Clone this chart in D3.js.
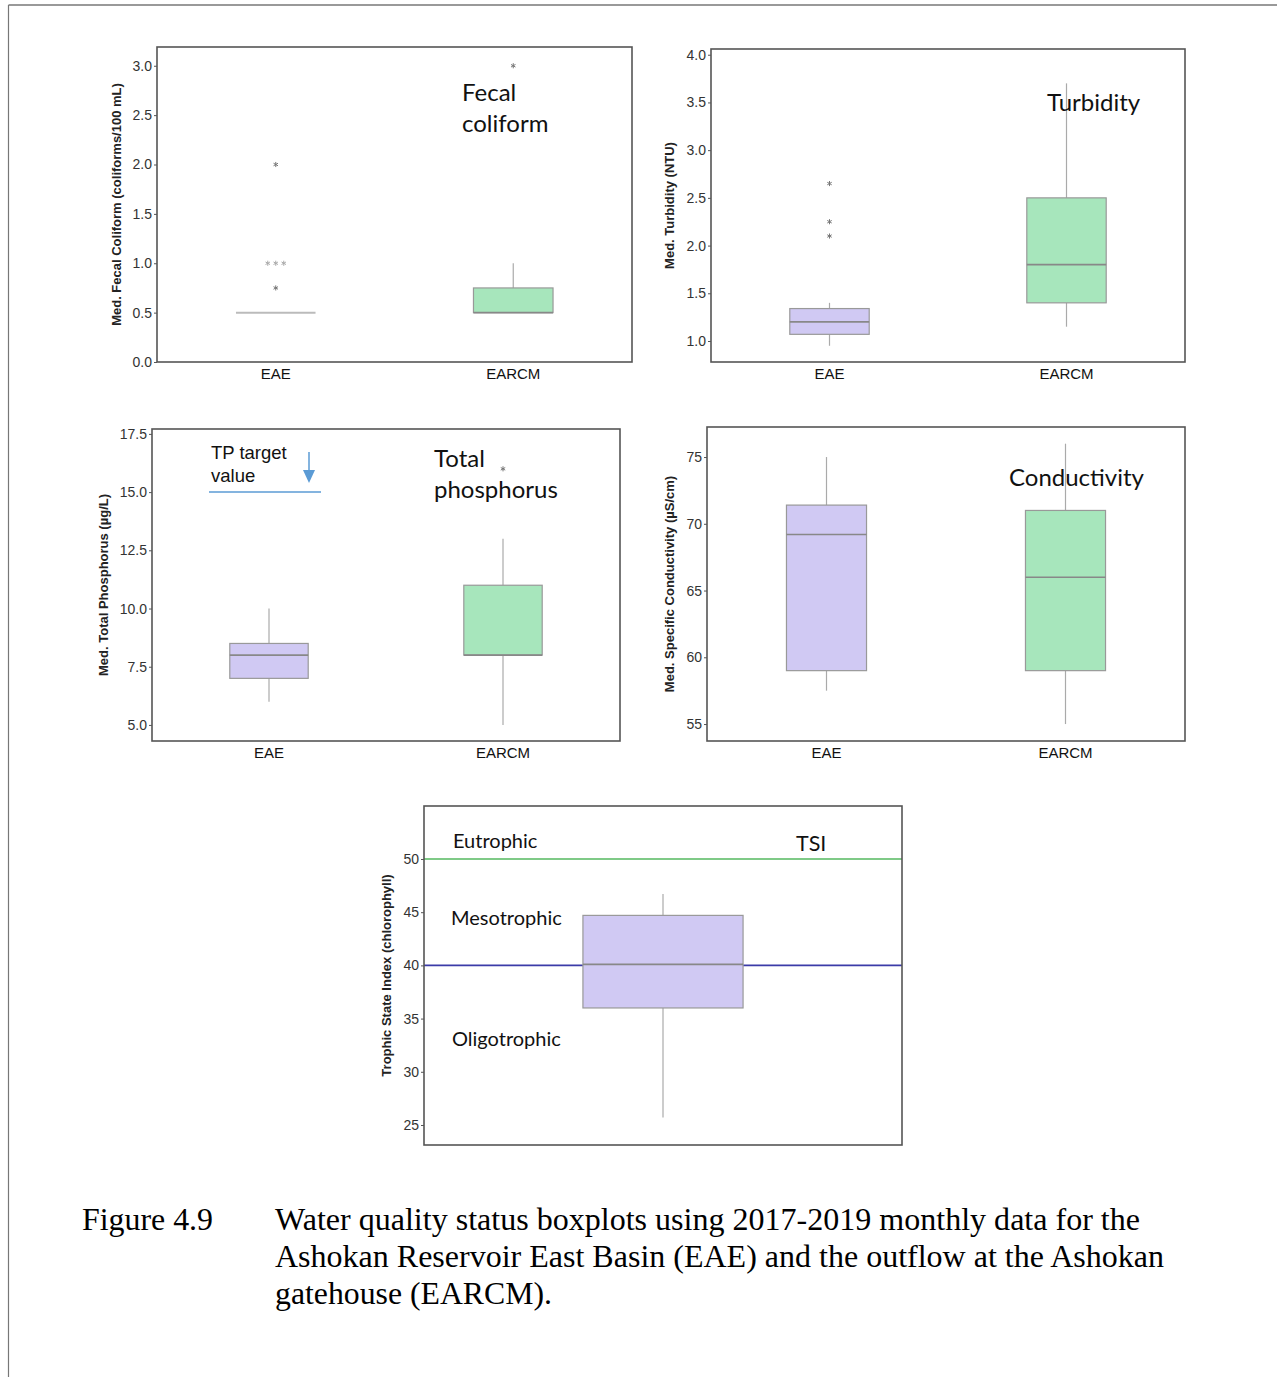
<!DOCTYPE html>
<html>
<head>
<meta charset="utf-8">
<script src="https://cdn.jsdelivr.net/npm/d3@7"></script>
<style>
  html, body { margin: 0; padding: 0; background: #fff; }
  svg { display: block; }
</style>
</head>
<body>
<svg id="fig" width="1277" height="1377"></svg>
<script>
// ---- Data: five-number summaries [lower whisker, Q1, median, Q3, upper whisker] ----
const categories = ["EAE", "EARCM"];

const fecalBoxes = [[0.5, 0.5, 0.5, 0.5, 0.5], [0.5, 0.5, 0.5, 0.75, 1.0]];
const fecalOutliers = [[2.0, 1.0, 1.0, 1.0, 0.75], [3.0]];
const fecalTicks = [0, 0.5, 1.0, 1.5, 2.0, 2.5, 3.0];

const turbBoxes = [[0.95, 1.07, 1.2, 1.34, 1.4], [1.15, 1.4, 1.8, 2.5, 3.7]];
const turbOutliers = [[2.65, 2.25, 2.1], []];
const turbTicks = [1.0, 1.5, 2.0, 2.5, 3.0, 3.5, 4.0];

const tpBoxes = [[6.0, 7.0, 8.0, 8.5, 10.0], [5.0, 8.0, 8.0, 11.0, 13.0]];
const tpOutliers = [[], [16.0]];
const tpTicks = [5.0, 7.5, 10.0, 12.5, 15.0, 17.5];
const tpTarget = 15.0;

const condBoxes = [[57.5, 59.0, 69.2, 71.4, 75.0], [55.0, 59.0, 66.0, 71.0, 76.0]];
const condOutliers = [[], []];
const condTicks = [55, 60, 65, 70, 75];

const tsiCategories = ["EAE"];
const tsiBoxes = [[25.7, 36.0, 40.1, 44.7, 46.7]];
const tsiOutliers = [[]];
const tsiTicks = [25, 30, 35, 40, 45, 50];
const tsiEutrophicLimit = 50;
const tsiMesotrophicLimit = 40;

const fills = ["#d0c9f3", "#a7e6bc"];

// ---- Drawing ----
const svg = d3.select("#fig");

// page border (top and left rules)
svg.append("line").attr("x1", 8.5).attr("x2", 1277).attr("y1", 5).attr("y2", 5)
  .attr("stroke", "#777").attr("stroke-width", 1.6);
svg.append("line").attr("x1", 8.5).attr("x2", 8.5).attr("y1", 5).attr("y2", 1377)
  .attr("stroke", "#777").attr("stroke-width", 1.2);

const calloutFont = "Lato, 'Open Sans', sans-serif";
const sansFont = "'Liberation Sans', Arial, sans-serif";

function boxPanel(cfg) {
  const g = svg.append("g");
  const x = d3.scaleBand().domain(cfg.cats).range([cfg.left, cfg.right]);
  const y = d3.scaleLinear().domain(cfg.domain).range([cfg.bottom, cfg.top]);
  const boxW = x.bandwidth() * 0.335;
  const cx = c => x(c) + x.bandwidth() / 2;

  // y axis ticks and labels
  const yAxis = d3.axisLeft(y).tickValues(cfg.ticks).tickSize(3).tickPadding(2)
    .tickFormat(cfg.fmt);
  const ya = g.append("g").attr("transform", `translate(${cfg.left},0)`).call(yAxis);
  ya.select(".domain").remove();
  ya.selectAll(".tick line").attr("stroke", "#555");
  ya.selectAll(".tick text").attr("fill", "#333")
    .style("font", `14px ${sansFont}`);

  // x axis labels
  if (cfg.xLabels) {
    const xAxis = d3.axisBottom(x).tickSize(0).tickPadding(6);
    const xa = g.append("g").attr("transform", `translate(0,${cfg.bottom})`).call(xAxis);
    xa.select(".domain").remove();
    xa.selectAll(".tick text").attr("fill", "#111")
      .style("font", `15px ${sansFont}`);
  }

  // axis title
  g.append("text")
    .attr("transform", `translate(${cfg.left - cfg.titleOffset},${(cfg.top + cfg.bottom) / 2}) rotate(-90)`)
    .attr("text-anchor", "middle").attr("dy", "0.35em")
    .attr("fill", "#222")
    .style("font", `bold 13px ${sansFont}`)
    .text(cfg.yTitle);

  if (cfg.under) cfg.under(g, x, y);

  cfg.boxes.forEach((b, i) => {
    const c = cfg.cats[i];
    const xc = cx(c);
    const [lo, q1, med, q3, hi] = b;
    // whiskers
    g.append("line").attr("x1", xc).attr("x2", xc).attr("y1", y(hi)).attr("y2", y(q3))
      .attr("stroke", "#aaa").attr("stroke-width", 1.2);
    g.append("line").attr("x1", xc).attr("x2", xc).attr("y1", y(q1)).attr("y2", y(lo))
      .attr("stroke", "#aaa").attr("stroke-width", 1.2);
    // box
    g.append("rect").attr("x", xc - boxW / 2).attr("width", boxW)
      .attr("y", y(q3)).attr("height", Math.max(0, y(q1) - y(q3)))
      .attr("fill", fills[i]).attr("stroke", "#999").attr("stroke-width", 1.2);
    // median
    g.append("line").attr("x1", xc - boxW / 2).attr("x2", xc + boxW / 2)
      .attr("y1", y(med)).attr("y2", y(med))
      .attr("stroke", q1 === q3 ? "#bbb" : "#888").attr("stroke-width", q1 === q3 ? 2 : 1.6);
    // outliers, with repeated values spread side by side
    const counts = d3.rollup(cfg.outliers[i], v => v.length, d => d);
    const seen = new Map();
    cfg.outliers[i].forEach(v => {
      const n = counts.get(v);
      const k = seen.get(v) || 0;
      seen.set(v, k + 1);
      const dx = (k - (n - 1) / 2) * 8;
      g.append("path")
        .attr("d", d3.symbol(d3.symbolAsterisk, 18)())
        .attr("transform", `translate(${xc + dx},${y(v)})`)
        .attr("fill", "none").attr("stroke", n > 1 ? "#aaa" : "#777").attr("stroke-width", 1);
    });
  });

  // frame
  g.append("rect").attr("x", cfg.left).attr("y", cfg.top)
    .attr("width", cfg.right - cfg.left).attr("height", cfg.bottom - cfg.top)
    .attr("fill", "none").attr("stroke", "#555").attr("stroke-width", 1.6);

  // callout labels
  (cfg.labels || []).forEach(l => {
    g.append("text").attr("x", l.x).attr("y", l.y).attr("fill", "#111")
      .style("font", `${l.size}px ${l.font || calloutFont}`).text(l.text);
  });
  if (cfg.over) cfg.over(g, x, y);
}

const f1 = d3.format(".1f");
const f0 = d3.format("d");

boxPanel({
  cats: categories, boxes: fecalBoxes, outliers: fecalOutliers,
  left: 157, right: 632, top: 47, bottom: 362,
  domain: [0, 3.19], ticks: fecalTicks, fmt: f1, xLabels: true,
  yTitle: "Med. Fecal Coliform (coliforms/100 mL)", titleOffset: 41,
  labels: [
    { text: "Fecal", x: 462, y: 101, size: 24 },
    { text: "coliform", x: 462, y: 132, size: 24 }
  ]
});

boxPanel({
  cats: categories, boxes: turbBoxes, outliers: turbOutliers,
  left: 711, right: 1185, top: 49, bottom: 362,
  domain: [0.78, 4.06], ticks: turbTicks, fmt: f1, xLabels: true,
  yTitle: "Med. Turbidity (NTU)", titleOffset: 42,
  labels: [{ text: "Turbidity", x: 1047, y: 111, size: 24 }]
});

boxPanel({
  cats: categories, boxes: tpBoxes, outliers: tpOutliers,
  left: 152, right: 620, top: 429, bottom: 741,
  domain: [4.31, 17.71], ticks: tpTicks, fmt: f1, xLabels: true,
  yTitle: "Med. Total Phosphorus (µg/L)", titleOffset: 49,
  labels: [
    { text: "Total", x: 434, y: 467, size: 24 },
    { text: "phosphorus", x: 434, y: 498, size: 24 },
    { text: "TP target", x: 211, y: 459, size: 18.5, font: sansFont },
    { text: "value", x: 211, y: 482, size: 18.5, font: sansFont }
  ],
  over: (g, x, y) => {
    const ty = y(tpTarget);
    const blue = "#5b9bd5";
    g.append("line").attr("x1", 209).attr("x2", 321).attr("y1", ty).attr("y2", ty)
      .attr("stroke", blue).attr("stroke-width", 1.5);
    const ax = 309;
    g.append("line").attr("x1", ax).attr("x2", ax).attr("y1", ty - 40).attr("y2", ty - 20)
      .attr("stroke", blue).attr("stroke-width", 1.5);
    g.append("path")
      .attr("d", `M${ax - 6},${ty - 22} L${ax + 6},${ty - 22} L${ax},${ty - 9} Z`)
      .attr("fill", blue);
  }
});

boxPanel({
  cats: categories, boxes: condBoxes, outliers: condOutliers,
  left: 707, right: 1185, top: 427, bottom: 741,
  domain: [53.73, 77.25], ticks: condTicks, fmt: f0, xLabels: true,
  yTitle: "Med. Specific Conductivity (µS/cm)", titleOffset: 38,
  labels: [{ text: "Conductivity", x: 1009, y: 486, size: 24 }]
});

boxPanel({
  cats: tsiCategories, boxes: tsiBoxes, outliers: tsiOutliers,
  left: 424, right: 902, top: 806, bottom: 1145,
  domain: [23.12, 54.98], ticks: tsiTicks, fmt: f0, xLabels: false,
  yTitle: "Trophic State Index (chlorophyll)", titleOffset: 38,
  under: (g, x, y) => {
    g.append("line").attr("x1", 424).attr("x2", 902)
      .attr("y1", y(tsiEutrophicLimit)).attr("y2", y(tsiEutrophicLimit))
      .attr("stroke", "#55b85f").attr("stroke-width", 1.6);
    g.append("line").attr("x1", 424).attr("x2", 902)
      .attr("y1", y(tsiMesotrophicLimit)).attr("y2", y(tsiMesotrophicLimit))
      .attr("stroke", "#3b3ba8").attr("stroke-width", 1.6);
  },
  labels: [
    { text: "Eutrophic", x: 453, y: 848, size: 20 },
    { text: "TSI", x: 796, y: 851, size: 21.5 },
    { text: "Mesotrophic", x: 451, y: 925, size: 20 },
    { text: "Oligotrophic", x: 452, y: 1046, size: 20 }
  ]
});

// ---- Caption ----
const capFont = "31px 'Liberation Serif', 'Times New Roman', serif";
svg.append("text").attr("x", 82).attr("y", 1230).style("font", capFont).attr("fill", "#000")
  .attr("textLength", 131).attr("lengthAdjust", "spacingAndGlyphs")
  .text("Figure 4.9");
const captionLines = [
  "Water quality status boxplots using 2017-2019 monthly data for the",
  "Ashokan Reservoir East Basin (EAE) and the outflow at the Ashokan",
  "gatehouse (EARCM)."
];
const captionWidths = [865, 889, 277];
captionLines.forEach((t, i) => {
  svg.append("text").attr("x", 275).attr("y", 1230 + i * 37)
    .style("font", capFont).attr("fill", "#000")
    .attr("textLength", captionWidths[i]).attr("lengthAdjust", "spacingAndGlyphs")
    .text(t);
});
</script>
</body>
</html>
